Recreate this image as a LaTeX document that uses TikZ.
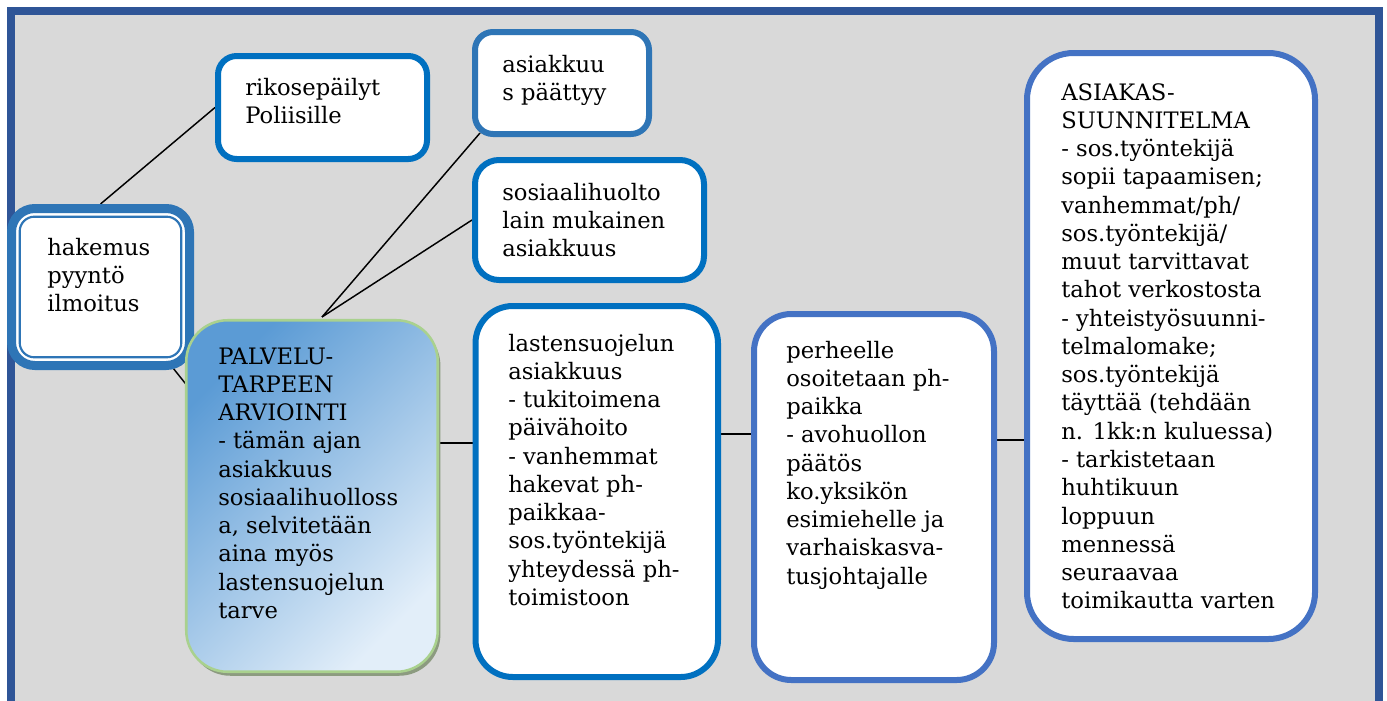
\documentclass[tikz,border=0pt]{standalone}
\usepackage{fontspec}
\setmainfont{DejaVu Serif}
\usetikzlibrary{calc,shadows}
\definecolor{framec}{HTML}{2F5597}
\definecolor{bgc}{HTML}{D9D9D9}
\definecolor{blueA}{HTML}{0070C0}
\definecolor{blueB}{HTML}{2E75B6}
\definecolor{blueC}{HTML}{4472C4}
\definecolor{greenb}{HTML}{A9D18E}
\definecolor{gradA}{HTML}{5B9BD5}
\definecolor{gradB}{HTML}{E2EEF9}
\definecolor{shadowc}{HTML}{8C9B80}
\newcommand{\linesblock}[1]{\parbox[t]{300pt}{\raggedright #1}}
\pgfdeclarelayer{background}
\pgfsetlayers{background,main}
\begin{document}
\begin{tikzpicture}[x=0.75pt,y=-0.75pt,
  box/.style={draw, fill=white, rectangle, inner sep=0pt, line width=4.5pt},
  conn/.style={draw=black, line width=1.1pt},
  txt/.style={anchor=base west, inner sep=0pt, font=\fontsize{17pt}{21.2pt}\selectfont, text=black}]
\useasboundingbox (0,0) rectangle (1387,700);

% boxes
\node[box, draw=blueB, line width=6.75pt, rounded corners=17.5pt,
      minimum width=178*0.75pt, minimum height=157*0.75pt] (hak) at (100.5,287) {};
\node[box, draw=blueA, rounded corners=14pt,
      minimum width=209*0.75pt, minimum height=103*0.75pt] (rik) at (322.5,107.5) {};
\node[box, draw=blueB, rounded corners=13.5pt,
      minimum width=174*0.75pt, minimum height=102*0.75pt] (asi) at (562,83) {};
\node[box, draw=blueA, rounded corners=18pt,
      minimum width=229*0.75pt, minimum height=120*0.75pt] (sos) at (589.5,220) {};
\node[draw=greenb, line width=1.9pt, rectangle, inner sep=0pt, rounded corners=31pt,
      top color=gradA, bottom color=gradB, shading angle=45,
      drop shadow={shadow xshift=2pt, shadow yshift=-3pt, fill=shadowc, opacity=1},
      minimum width=251.5*0.75pt, minimum height=351.5*0.75pt] (pal) at (312,496) {};
\node[box, draw=blueA, rounded corners=28pt,
      minimum width=242.5*0.75pt, minimum height=371*0.75pt] (las) at (596.75,491.5) {};
\node[box, draw=blueC, rounded corners=28pt,
      minimum width=240*0.75pt, minimum height=366*0.75pt] (per) at (874,497) {};
\node[box, draw=blueC, rounded corners=35pt,
      minimum width=288*0.75pt, minimum height=586*0.75pt] (asu) at (1171,346) {};
\draw[blueB, line width=1.6pt, rounded corners=11pt]
  ($(hak.north west)+(12.7,12.7)$) rectangle ($(hak.south east)+(-12.7,-12.7)$);

% frame and connectors behind
\begin{pgfonlayer}{background}
  \begin{scope}
    \clip (0,0) rectangle (1387,700);
    \fill[bgc] (10,10) rectangle (1380,760);
    \draw[framec, line width=7.5*0.75pt] (10.75,10.75) rectangle (1379,760);
  \end{scope}
  \coordinate (apex) at ($(pal.north)+(10,-2)$);
  \draw[conn] (hak.north) -- (rik.west);
  \draw[conn] ($(hak.south east)+(-29,-12)$) -- ($(pal.north west)+(8,74)$);
  \draw[conn] (apex) -- ($(asi.south west)+(8,-4)$);
  \draw[conn] (apex) -- (sos.west);
  \coordinate (c1) at ($(pal.east)+(0,-53)$);
  \draw[conn] (c1) -- (c1 -| las.west);
  \coordinate (c2) at ($(las.east)+(0,-57.5)$);
  \draw[conn] (c2) -- (c2 -| per.west);
  \coordinate (c3) at ($(per.east)+(0,-57)$);
  \draw[conn] (c3) -- (c3 -| asu.west);
\end{pgfonlayer}

% texts
\node[txt] (thak) at (47,255) {\linesblock{hakemus\\pyyntö\\ilmoitus}};
\node[txt] (trik) at (245,95) {\linesblock{rikosepäilyt\\Poliisille}};
\node[txt] (tasi) at (502,72) {\linesblock{asiakkuu\\s päättyy}};
\node[txt] (tsos) at (502,200) {\linesblock{sosiaalihuolto\\lain mukainen\\asiakkuus}};
\node[txt] (tpal) at (218,364) {\linesblock{PALVELU-\\TARPEEN\\ARVIOINTI\\- tämän ajan\\asiakkuus\\sosiaalihuolloss\\a, selvitetään\\aina myös\\lastensuojelun\\tarve}};
\node[txt] (tlas) at (508,351) {\linesblock{lastensuojelun\\asiakkuus\\- tukitoimena\\päivähoito\\- vanhemmat\\hakevat ph-\\paikkaa-\\sos.työntekijä\\yhteydessä ph-\\toimistoon}};
\node[txt] (tper) at (786,358) {\linesblock{perheelle\\osoitetaan ph-\\paikka\\- avohuollon\\päätös\\ko.yksikön\\esimiehelle ja\\varhaiskasva-\\tusjohtajalle}};
\node[txt] (tasu) at (1061,100) {\linesblock{ASIAKAS-\\SUUNNITELMA\\- sos.työntekijä\\sopii tapaamisen;\\vanhemmat/ph/\\sos.työntekijä/\\muut tarvittavat\\tahot verkostosta\\- yhteistyösuunni-\\telmalomake;\\sos.työntekijä\\täyttää (tehdään\\n. 1kk:n kuluessa)\\- tarkistetaan\\huhtikuun\\loppuun\\mennessä\\seuraavaa\\toimikautta varten}};
\end{tikzpicture}
\end{document}
